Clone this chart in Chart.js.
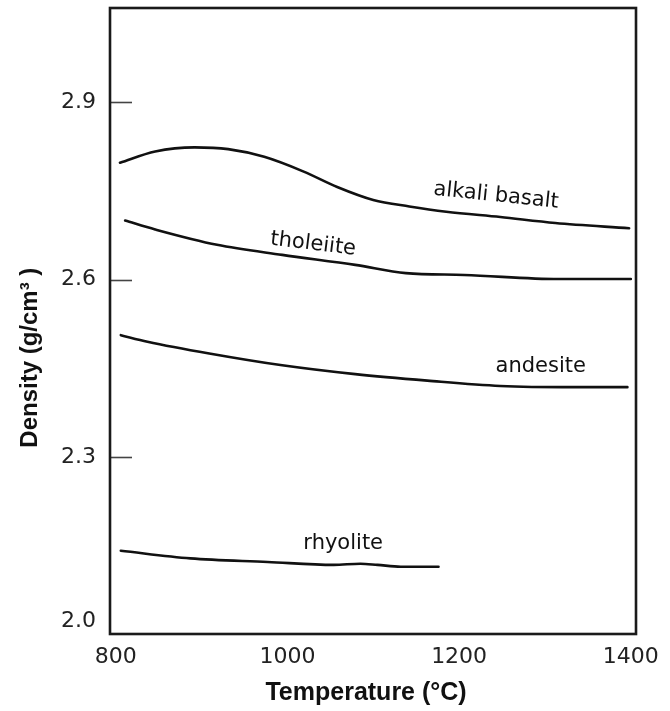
<!DOCTYPE html>
<html>
<head>
<meta charset="utf-8">
<script src="https://cdn.jsdelivr.net/npm/chart.js@4/dist/chart.umd.min.js"></script>
<style>
  html, body { margin: 0; padding: 0; background: #fff; }
  #wrap { width: 670px; height: 711px; }
</style>
</head>
<body>
<div id="wrap"><canvas id="c" width="670" height="711"></canvas></div>
<script>
// ---- data ----
const tempAlkali = [805, 846, 892, 931, 973, 1019, 1058, 1100, 1142, 1185, 1248, 1312, 1398];
const densAlkali = [2.798, 2.817, 2.824, 2.821, 2.808, 2.783, 2.757, 2.735, 2.724, 2.715, 2.706, 2.696, 2.687];

const tempTholeiite = [811, 846, 918, 994, 1079, 1138, 1206, 1316, 1400];
const densTholeiite = [2.700, 2.685, 2.659, 2.642, 2.625, 2.611, 2.608, 2.601, 2.601];

const tempAndesite = [806, 837, 909, 994, 1079, 1163, 1248, 1333, 1396];
const densAndesite = [2.506, 2.495, 2.475, 2.455, 2.440, 2.429, 2.420, 2.418, 2.418];

const tempRhyolite = [806, 887, 977, 1054, 1085, 1105, 1132, 1176];
const densRhyolite = [2.141, 2.128, 2.122, 2.117, 2.119, 2.117, 2.114, 2.114];

const xTicks = [800, 1000, 1200, 1400];
const yTicks = [2.0, 2.3, 2.6, 2.9];

const labelNames = ['alkali basalt', 'tholeiite', 'andesite', 'rhyolite'];
const labelTemp = [1243, 1030, 1295, 1065];
const labelDens = [2.742, 2.660, 2.453, 2.154];
const labelAngle = [6, 7, 0, 0];

// ---- helpers ----
function pts(xs, ys) { return xs.map((x, i) => ({ x: x, y: ys[i] })); }
function ds(xs, ys) {
  return {
    data: pts(xs, ys),
    borderColor: '#111',
    borderWidth: 2.6,
    pointRadius: 0,
    fill: false,
    cubicInterpolationMode: 'monotone',
    borderCapStyle: 'round',
    borderJoinStyle: 'round'
  };
}

const framePlugin = {
  id: 'frame',
  afterDatasetsDraw(chart) {
    const { ctx, chartArea: a, scales } = chart;
    const y = scales.y;
    ctx.save();
    ctx.strokeStyle = '#444';
    ctx.lineWidth = 1.6;
    yTicks.forEach(v => {
      if (v <= y.min) return;
      const py = Math.round(y.getPixelForValue(v)) + 0.5;
      ctx.beginPath();
      ctx.moveTo(a.left, py);
      ctx.lineTo(a.left + 22, py);
      ctx.stroke();
    });
    ctx.strokeStyle = '#1a1a1a';
    ctx.lineWidth = 2.6;
    ctx.strokeRect(a.left, a.top, a.right - a.left, a.bottom - a.top);
    ctx.fillStyle = '#111';
    ctx.font = '21px "DejaVu Sans", sans-serif';
    ctx.textAlign = 'center';
    ctx.textBaseline = 'middle';
    labelNames.forEach((t, i) => {
      const px = scales.x.getPixelForValue(labelTemp[i]);
      const py = y.getPixelForValue(labelDens[i]);
      ctx.save();
      ctx.translate(px, py);
      ctx.rotate(labelAngle[i] * Math.PI / 180);
      ctx.fillText(t, 0, 0);
      ctx.restore();
    });
    ctx.restore();
  }
};

const NB = '\u00A0';

new Chart(document.getElementById('c'), {
  type: 'line',
  data: {
    datasets: [
      ds(tempAlkali, densAlkali),
      ds(tempTholeiite, densTholeiite),
      ds(tempAndesite, densAndesite),
      ds(tempRhyolite, densRhyolite)
    ]
  },
  options: {
    responsive: false,
    animation: false,
    layout: { padding: { top: 8, right: 34, left: 0, bottom: 0 } },
    plugins: { legend: { display: false }, tooltip: { enabled: false } },
    scales: {
      x: {
        type: 'linear',
        min: 793.4,
        max: 1406,
        grid: { display: false, drawTicks: false },
        border: { display: false },
        afterBuildTicks(s) { s.ticks = xTicks.map(v => ({ value: v })); },
        afterFit(s) { s.height = 77; s.paddingLeft = 0; s.paddingRight = 0; },
        ticks: {
          padding: 10,
          color: '#222',
          maxRotation: 0,
          font: { family: '"DejaVu Sans", sans-serif', size: 22 },
          callback: v => String(v)
        },
        title: {
          display: true,
          text: 'Temperature (°C)' + NB.repeat(2),
          color: '#111',
          padding: { top: 0, bottom: 3 },
          font: { family: '"Liberation Sans", Arial, sans-serif', size: 25, weight: 'bold' }
        }
      },
      y: {
        type: 'linear',
        min: 2.0,
        max: 3.06,
        grid: { display: false, drawTicks: false },
        border: { display: false },
        afterBuildTicks(s) { s.ticks = yTicks.map(v => ({ value: v })); },
        afterFit(s) { s.width = 110; s.paddingTop = 0; s.paddingBottom = 0; },
        ticks: {
          padding: 14,
          color: '#222',
          font: { family: '"DejaVu Sans", sans-serif', size: 22 },
          callback: v => (Math.abs(v - 2.0) < 1e-9 ? ['2.0', ''] : v.toFixed(1))
        },
        title: {
          display: true,
          text: 'Density (g/cm³ )' + NB.repeat(11),
          color: '#111',
          padding: { top: 16, bottom: 0 },
          font: { family: '"Liberation Sans", Arial, sans-serif', size: 24, weight: 'bold' }
        }
      }
    }
  },
  plugins: [framePlugin]
});
</script>
</body>
</html>
